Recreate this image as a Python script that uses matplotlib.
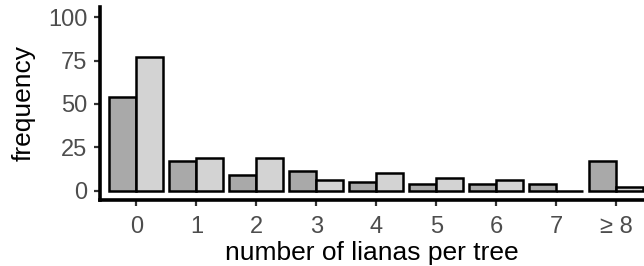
import numpy as np
import matplotlib
matplotlib.use("Agg")
import matplotlib.pyplot as plt

plt.rcParams['font.family'] = ['Liberation Sans', 'DejaVu Sans']

# number of lianas per tree, two groups of trees
categories = ["0", "1", "2", "3", "4", "5", "6", "7", "\u2265 8"]
group_dark = [54, 17, 9, 11, 5, 4, 4, 4, 17]
group_light = [77, 19, 19, 6, 10, 7, 6, 0, 2]
yticks = [0, 25, 50, 75, 100]

x = np.arange(len(categories))
width = 0.45

fig = plt.figure(figsize=(6.44, 2.66), dpi=100)
ax = fig.add_axes([0.156, 0.248, 0.844, 0.726])

ax.bar(x - width / 2, group_dark, width, color="#A9A9A9", edgecolor="black", linewidth=1.8)
ax.bar(x + width / 2, group_light, width, color="#D3D3D3", edgecolor="black", linewidth=1.8)

ax.set_xlim(-0.6, 8.46)
ax.set_ylim(-5.5, 106)
ax.set_xticks(x)
ax.set_xticklabels(categories)
ax.set_yticks(yticks)

for side in ["top", "right"]:
    ax.spines[side].set_visible(False)
for side in ["left", "bottom"]:
    ax.spines[side].set_linewidth(2.6)

ax.tick_params(axis="both", length=4.5, width=1.6, color="#333333", labelsize=17, labelcolor="#4D4D4D")
ax.tick_params(axis="y", pad=5)
ax.tick_params(axis="x", pad=7)
ax.set_xlabel("number of lianas per tree", fontsize=19, labelpad=2)
ax.set_ylabel("frequency", fontsize=19, labelpad=9)

fig.savefig("out.png", dpi=100)
